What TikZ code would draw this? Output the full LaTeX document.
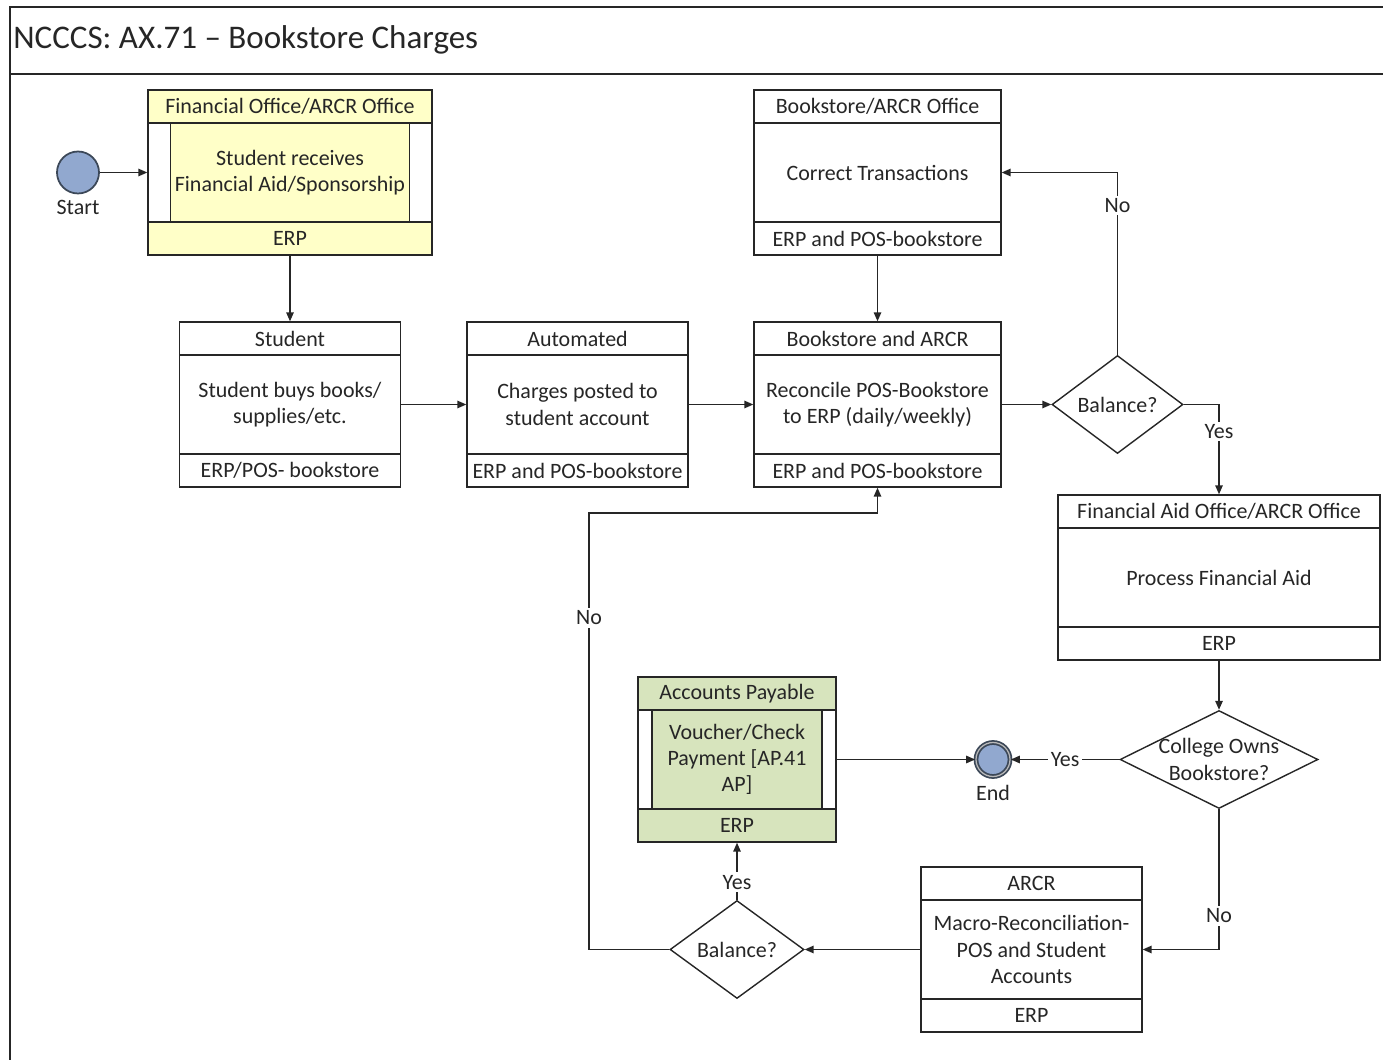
\documentclass[tikz,border=0pt]{standalone}
\usepackage{fontspec}
\setmainfont{Carlito}
\usetikzlibrary{shapes.geometric,arrows.meta}

\definecolor{taskyellow}{HTML}{FFFFC8}
\definecolor{taskgreen}{HTML}{D7E4BD}
\definecolor{eventblue}{HTML}{91A8CF}
\definecolor{eventedge}{HTML}{3C4858}
\definecolor{ink}{HTML}{262626}

\tikzset{
    lane/.style={draw=ink, line width=0.8pt, minimum height=0.66cm, inner sep=0pt},
    task/.style={draw=ink, line width=0.8pt, minimum height=1.98cm, inner sep=0pt, align=center},
    decision/.style={diamond, draw=ink, line width=0.8pt, inner sep=0pt},
    flow/.style={draw=ink, line width=0.8pt, -{Triangle[length=1.8mm,width=1.5mm]}},
    answer/.style={fill=white, inner sep=1.5pt},
    event/.style={circle, draw=eventedge, fill=eventblue, inner sep=0pt}
}

\begin{document}
\begin{tikzpicture}[x=0.02cm, y=-0.02cm, font=\fontsize{12.5}{15}\selectfont, text=ink]

        \useasboundingbox (0,0) rectangle (1383,1060);

        % Frame and title
        \draw[ink, line width=1.2pt] (10,1060) -- (10,7) -- (1383,7);
        \draw[ink, line width=1pt] (10,74) -- (1383,74);
        \node[anchor=west, inner sep=0pt, font=\fontsize{18.8}{22}\selectfont] (title) at (13,40) {NCCCS: AX.71 -- Bookstore Charges};

        % Start and end events
        \node[event, line width=1pt, minimum size=0.84cm, label={[label distance=0pt]below:Start}] (start) at (78,172.5) {};
        \node[event, line width=1pt, double=gray!55, double distance=0.7pt, minimum size=0.68cm, label={[label distance=1pt]below:End}] (end) at (993,759.5) {};

        % Financial office
        \node[lane, fill=taskyellow, minimum width=5.68cm] (fin-head) at (290,106.5) {Financial Office/ARCR Office};
        \node[task, fill=white, minimum width=5.68cm] (fin-body) at (290,172.5) {};
        \node[task, fill=taskyellow, minimum width=4.78cm] (fin-task) at (290,172.5) {Student receives\\Financial Aid/Sponsorship};
        \node[lane, fill=taskyellow, minimum width=5.68cm] (fin-foot) at (290,238.5) {ERP};

        % Student buys
        \node[lane, minimum width=4.42cm] (buy-head) at (290,338.5) {Student};
        \node[task, minimum width=4.42cm] (buy-body) at (290,404.5) {Student buys books/\\supplies/etc.};
        \node[lane, minimum width=4.42cm] (buy-foot) at (290,470.5) {ERP/POS- bookstore};

        % Automated posting
        \node[lane, minimum width=4.42cm] (auto-head) at (577.5,338.5) {Automated};
        \node[task, minimum width=4.42cm] (auto-body) at (577.5,404.5) {Charges posted to\\student account};
        \node[lane, minimum width=4.42cm] (auto-foot) at (577.5,470.5) {ERP and POS-bookstore};

        % Reconcile
        \node[lane, minimum width=4.94cm] (recon-head) at (877.5,338.5) {Bookstore and ARCR};
        \node[task, minimum width=4.94cm] (recon-body) at (877.5,404.5) {Reconcile POS-Bookstore\\to ERP (daily/weekly)};
        \node[lane, minimum width=4.94cm] (recon-foot) at (877.5,470.5) {ERP and POS-bookstore};

        % Correct transactions
        \node[lane, minimum width=4.94cm] (correct-head) at (877.5,106.5) {Bookstore/ARCR Office};
        \node[task, minimum width=4.94cm] (correct-body) at (877.5,172.5) {Correct Transactions};
        \node[lane, minimum width=4.94cm] (correct-foot) at (877.5,238.5) {ERP and POS-bookstore};

        % Process financial aid
        \node[lane, minimum width=6.44cm] (finaid-head) at (1219,511.5) {Financial Aid Office/ARCR Office};
        \node[task, minimum width=6.44cm] (finaid-body) at (1219,577.5) {Process Financial Aid};
        \node[lane, minimum width=6.44cm] (finaid-foot) at (1219,643.5) {ERP};

        % Accounts payable
        \node[lane, fill=taskgreen, minimum width=3.96cm] (ap-head) at (737,693.5) {Accounts Payable};
        \node[task, fill=white, minimum width=3.96cm] (ap-body) at (737,759.5) {};
        \node[task, fill=taskgreen, minimum width=3.4cm] (ap-task) at (737,759.5) {Voucher/Check\\Payment [AP.41\\AP]};
        \node[lane, fill=taskgreen, minimum width=3.96cm] (ap-foot) at (737,825.5) {ERP};

        % Macro reconciliation
        \node[lane, minimum width=4.42cm] (arcr-head) at (1031.5,883.5) {ARCR};
        \node[task, minimum width=4.42cm] (arcr-body) at (1031.5,949.5) {Macro-Reconciliation-\\POS and Student\\Accounts};
        \node[lane, minimum width=4.42cm] (arcr-foot) at (1031.5,1015.5) {ERP};

        % Decisions
        \node[decision, minimum width=2.62cm, minimum height=1.96cm, label={center:Balance?}] (bal1) at (1117.5,404.5) {};
        \node[decision, minimum width=3.96cm, minimum height=1.96cm, label={[align=center]center:College Owns\\Bookstore?}] (own) at (1219,759.5) {};
        \node[decision, minimum width=2.68cm, minimum height=1.96cm, label={center:Balance?}] (bal2) at (737,949.5) {};

        % Flow
        \draw[flow] (start.east) -- (fin-body.west);
        \draw[flow] (fin-foot.south) -- (buy-head.north);
        \draw[flow] (buy-body) -- (auto-body);
        \draw[flow] (auto-body) -- (recon-body);
        \draw[flow] (correct-foot.south) -- (recon-head.north);
        \draw[flow] (recon-body) -- (bal1);
        \draw[flow] (bal1.north) |- node[answer, pos=0.41] {No} (correct-body.east);
        \draw[flow] (bal1.east) -| node[answer, pos=0.65] {Yes} (finaid-head.north);
        \draw[flow] (finaid-foot.south) -- (own.north);
        \draw[flow] (own.west) -- node[answer] {Yes} (end.east);
        \draw[flow] (ap-body.east) -- (end.west);
        \draw[flow] (own.south) |- node[answer, pos=0.38] {No} (arcr-body.east);
        \draw[flow] (arcr-body) -- (bal2);
        \draw[flow] (bal2.north) -- node[answer, pos=0.31] {Yes} (ap-foot.south);
        \coordinate (retry) at (589,513);
        \draw[flow] (bal2.west) -| node[answer, pos=0.88] {No} (retry) -| (recon-foot.south);

    \end{tikzpicture}
\end{document}
